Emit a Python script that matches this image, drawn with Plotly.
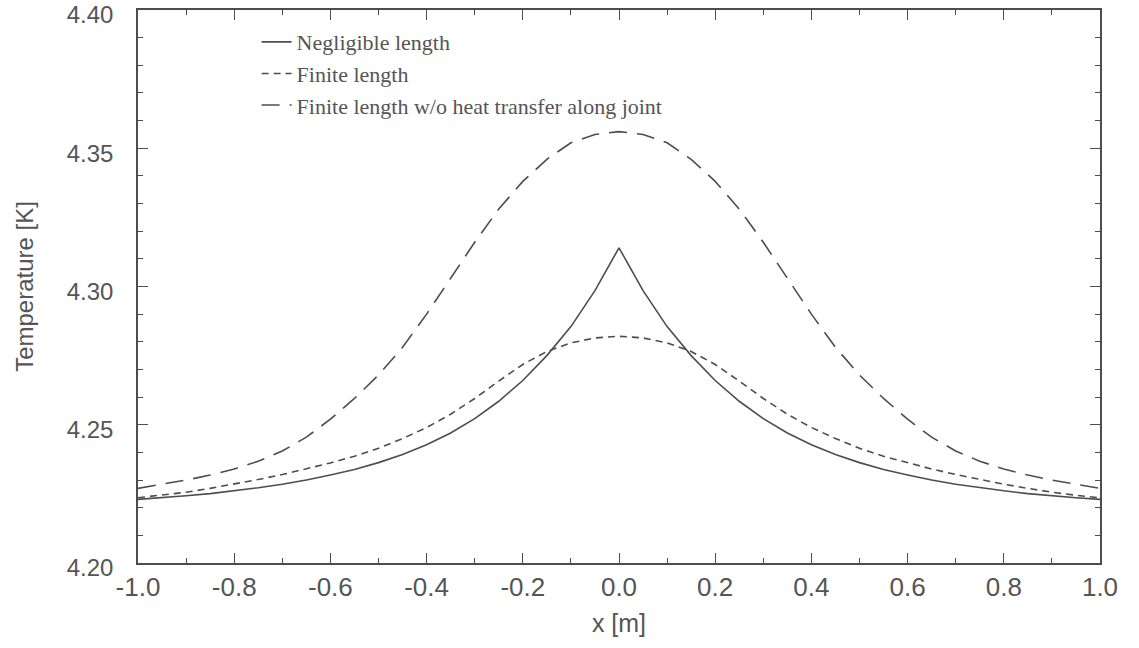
import plotly.graph_objects as go

x_pos = [-1.0, -0.95, -0.9, -0.85, -0.8, -0.75, -0.7, -0.65, -0.6, -0.55, -0.5,
         -0.45, -0.4, -0.35, -0.3, -0.25, -0.2, -0.15, -0.1, -0.05, 0.0,
         0.05, 0.1, 0.15, 0.2, 0.25, 0.3, 0.35, 0.4, 0.45, 0.5,
         0.55, 0.6, 0.65, 0.7, 0.75, 0.8, 0.85, 0.9, 0.95, 1.0]

t_negligible = [4.2230, 4.2236, 4.2243, 4.2251, 4.2261, 4.2272, 4.2285, 4.2300, 4.2318, 4.2338, 4.2363,
                4.2392, 4.2428, 4.2470, 4.2522, 4.2585, 4.2660, 4.2750, 4.2855, 4.2985, 4.3140,
                4.2985, 4.2855, 4.2750, 4.2660, 4.2585, 4.2522, 4.2470, 4.2428, 4.2392, 4.2363,
                4.2338, 4.2318, 4.2300, 4.2285, 4.2272, 4.2261, 4.2251, 4.2243, 4.2236, 4.2230]

t_finite = [4.2236, 4.2245, 4.2256, 4.2270, 4.2285, 4.2302, 4.2320, 4.2340, 4.2362, 4.2386, 4.2415,
            4.2450, 4.2490, 4.2538, 4.2595, 4.2658, 4.2718, 4.2765, 4.2796, 4.2814, 4.2820,
            4.2814, 4.2796, 4.2765, 4.2718, 4.2658, 4.2595, 4.2538, 4.2490, 4.2450, 4.2415,
            4.2386, 4.2362, 4.2340, 4.2320, 4.2302, 4.2285, 4.2270, 4.2256, 4.2245, 4.2236]

t_no_joint = [4.2270, 4.2285, 4.2300, 4.2318, 4.2340, 4.2368, 4.2405, 4.2455, 4.2520, 4.2595, 4.2680,
              4.2780, 4.2900, 4.3030, 4.3160, 4.3280, 4.3380, 4.3460, 4.3520, 4.3550, 4.3560,
              4.3550, 4.3520, 4.3460, 4.3380, 4.3280, 4.3160, 4.3030, 4.2900, 4.2780, 4.2680,
              4.2595, 4.2520, 4.2455, 4.2405, 4.2368, 4.2340, 4.2318, 4.2300, 4.2285, 4.2270]

series_names = ["Negligible length", "Finite length", "Finite length w/o heat transfer along joint"]

x_tickvals = [-1.0, -0.8, -0.6, -0.4, -0.2, 0.0, 0.2, 0.4, 0.6, 0.8, 1.0]
x_ticktext = ["-1.0", "-0.8", "-0.6", "-0.4", "-0.2", "0.0", "0.2", "0.4", "0.6", "0.8", "1.0"]
y_tickvals = [4.20, 4.25, 4.30, 4.35, 4.40]
y_ticktext = ["4.20", "4.25", "4.30", "4.35", "4.40"]

INK = "#4d4d4d"
TXT = "#555555"
SANS = "Liberation Sans, Arial, sans-serif"

fig = go.Figure()
fig.add_trace(go.Scatter(x=x_pos, y=t_negligible, mode="lines", name=series_names[0],
                         line=dict(color=INK, width=1.6, dash="solid")))
fig.add_trace(go.Scatter(x=x_pos, y=t_finite, mode="lines", name=series_names[1],
                         line=dict(color=INK, width=1.6, dash="7px,5px")))
fig.add_trace(go.Scatter(x=x_pos, y=t_no_joint, mode="lines", name=series_names[2],
                         line=dict(color=INK, width=1.6, dash="18px,10px")))

axis_common = dict(
    showline=True, linecolor=INK, linewidth=1.5, mirror="allticks",
    ticks="inside", ticklen=10, tickwidth=1.2, tickcolor=INK,
    showgrid=False, zeroline=False, automargin=False,
    ticklabeloverflow="allow",
)

fig.update_xaxes(
    range=[-1.0, 1.0], tickvals=x_tickvals, ticktext=x_ticktext,
    tickfont=dict(family=SANS, size=26, color=TXT),
    minor=dict(ticks="inside", ticklen=5, tickwidth=1.2, tickcolor=INK, dtick=0.1, showgrid=False),
    title=dict(text="x [m]", font=dict(family=SANS, size=25, color=TXT), standoff=14),
    ticklabelstandoff=0,
    **axis_common,
)
fig.update_yaxes(
    range=[4.20, 4.40], tickvals=y_tickvals, ticktext=y_ticktext,
    tickfont=dict(family=SANS, size=24, color=TXT),
    minor=dict(ticks="inside", ticklen=5, tickwidth=1.2, tickcolor=INK, dtick=0.01, showgrid=False),
    title=dict(text="Temperature [K]", font=dict(family=SANS, size=24, color=TXT), standoff=26),
    ticklabelstandoff=18, ticklabelshift=5,
    **axis_common,
)

fig.update_layout(
    width=1139, height=648,
    margin=dict(l=138, r=39, t=10, b=85),
    paper_bgcolor="white", plot_bgcolor="white",
    showlegend=True,
    legend=dict(
        x=0.1233, y=0.980, xanchor="left", yanchor="top",
        bgcolor="rgba(0,0,0,0)", borderwidth=0,
        font=dict(family="Liberation Serif, Times New Roman, serif", size=22, color=TXT),
        tracegroupgap=0, itemwidth=30,
    ),
)

fig.write_html("out.html", config={"displayModeBar": False},
               post_script="document.body.style.margin='0';document.body.style.overflow='hidden';")
